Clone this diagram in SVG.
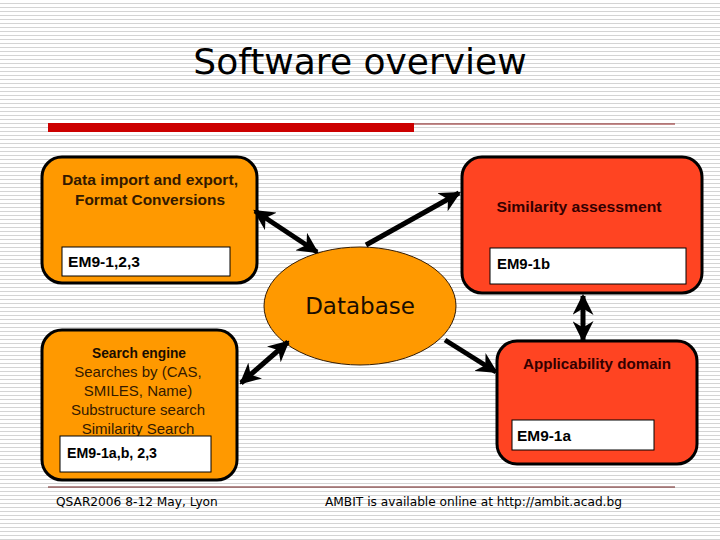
<svg xmlns="http://www.w3.org/2000/svg" width="720" height="540" viewBox="0 0 720 540">
<defs>
<pattern id="stripes" width="8" height="4" patternUnits="userSpaceOnUse">
<rect width="8" height="4" fill="#ffffff"/>
<rect y="3" width="8" height="1" fill="#d4d4d4"/>
</pattern>
<marker id="ah" viewBox="0 0 10 10" refX="9" refY="5" markerWidth="4.2" markerHeight="4.2" orient="auto-start-reverse" markerUnits="strokeWidth">
<path d="M0,0 L10,5 L0,10 L3,5 Z" fill="#000"/>
</marker>
</defs>
<style>
.box{stroke:#000;stroke-width:3}
.org{fill:#FF9900}
.red{fill:#FF4422}
.wb{fill:#fff;stroke:#000;stroke-width:1}
.lbl{font-family:"Liberation Sans",Arial,sans-serif;font-weight:bold;font-size:15px;text-anchor:middle}
.em{font-family:"Liberation Sans",Arial,sans-serif;font-weight:bold;font-size:15px;fill:#000}
.body{font-family:"Liberation Sans",Arial,sans-serif;font-size:15px;text-anchor:middle;fill:#331a00}
.conn{stroke:#000;stroke-width:5;fill:none}
.foot{font-family:"DejaVu Sans",Verdana,sans-serif;font-size:12.2px;fill:#000}
</style>
<rect width="720" height="540" fill="url(#stripes)"/>
<text x="360" y="74" font-family="DejaVu Sans, Verdana, sans-serif" font-size="36" text-anchor="middle" fill="#000">Software overview</text>
<rect x="48" y="123" width="366" height="9" fill="#CC0000"/>
<line x1="414" y1="124" x2="675" y2="124" stroke="#8B1A1A" stroke-width="1"/>
<line x1="48" y1="487" x2="675" y2="487" stroke="#6B1A1A" stroke-width="1"/>

<g id="node-import">
<rect class="box org" x="42" y="157" width="215" height="126" rx="20"/>
<text class="lbl" x="150" y="185" fill="#331a00" textLength="176" lengthAdjust="spacingAndGlyphs">Data import and export,</text>
<text class="lbl" x="150" y="205" fill="#331a00" textLength="150" lengthAdjust="spacingAndGlyphs">Format Conversions</text>
<rect class="wb" x="62" y="247" width="168" height="29"/>
<text class="em" x="68" y="267" textLength="72" lengthAdjust="spacingAndGlyphs">EM9-1,2,3</text>
</g>

<g id="node-similarity">
<rect class="box red" x="462" y="157" width="240" height="136" rx="20"/>
<text class="lbl" x="579" y="212" fill="#330000" textLength="165" lengthAdjust="spacingAndGlyphs">Similarity assessment</text>
<rect class="wb" x="490" y="248" width="196" height="36"/>
<text class="em" x="497" y="269" textLength="53" lengthAdjust="spacingAndGlyphs">EM9-1b</text>
</g>

<g id="node-database">
<ellipse cx="360" cy="306" rx="96" ry="59" fill="#FF9900" stroke="#331a00" stroke-width="1"/>
<text x="360" y="314" font-family="DejaVu Sans, Verdana, sans-serif" font-size="23" text-anchor="middle" fill="#1a0d00">Database</text>
</g>

<g id="node-search">
<rect class="box org" x="42" y="330" width="195" height="150" rx="20"/>
<text class="lbl" x="139" y="358" fill="#1a0d00" textLength="94" lengthAdjust="spacingAndGlyphs">Search engine</text>
<text class="body" x="138" y="377">Searches by (CAS,</text>
<text class="body" x="138" y="396">SMILES, Name)</text>
<text class="body" x="138" y="415">Substructure search</text>
<text class="body" x="138" y="434">Similarity Search</text>
<rect class="wb" x="60" y="436" width="151" height="36"/>
<text class="em" x="67" y="458" textLength="90" lengthAdjust="spacingAndGlyphs">EM9-1a,b, 2,3</text>
</g>

<g id="node-applicability">
<rect class="box red" x="497" y="341" width="200" height="123" rx="20"/>
<text class="lbl" x="597" y="369" fill="#330000" textLength="148" lengthAdjust="spacingAndGlyphs">Applicability domain</text>
<rect class="wb" x="512" y="420" width="142" height="30"/>
<text class="em" x="517" y="441" textLength="54" lengthAdjust="spacingAndGlyphs">EM9-1a</text>
</g>

<g id="connectors">
<line class="conn" x1="255" y1="211" x2="317" y2="252" marker-start="url(#ah)" marker-end="url(#ah)"/>
<line class="conn" x1="366" y1="245" x2="459" y2="193" marker-end="url(#ah)"/>
<line class="conn" x1="583" y1="296" x2="583" y2="340" marker-start="url(#ah)" marker-end="url(#ah)"/>
<line class="conn" x1="241" y1="383" x2="288" y2="342" marker-start="url(#ah)" marker-end="url(#ah)"/>
<line class="conn" x1="445" y1="340" x2="496" y2="372" marker-end="url(#ah)"/>
</g>

<text class="foot" x="56" y="506">QSAR2006 8-12 May, Lyon</text>
<text class="foot" x="325" y="506">AMBIT is available online at http://ambit.acad.bg</text>
</svg>
